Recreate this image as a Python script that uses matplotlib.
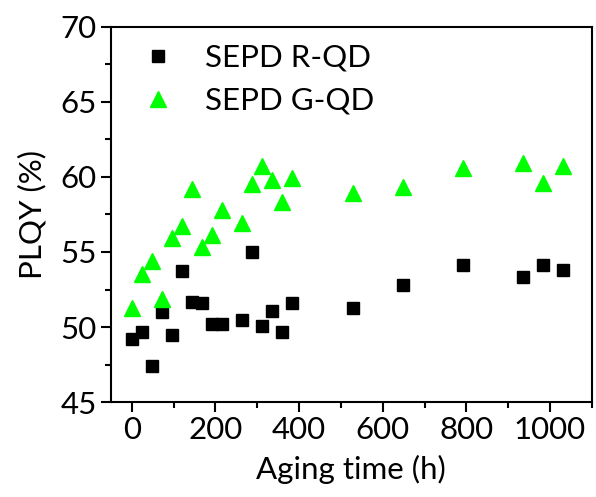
import matplotlib.pyplot as plt

# aging time (h) and PLQY (%)
time_r = [0, 24, 48, 72, 96, 120, 144, 168, 192, 216, 264, 288, 312, 336,
          360, 384, 528, 648, 792, 936, 984, 1032]
plqy_r = [49.2, 49.7, 47.4, 51.0, 49.5, 53.7, 51.7, 51.6, 50.2, 50.2, 50.5,
          55.0, 50.1, 51.1, 49.7, 51.6, 51.3, 52.8, 54.1, 53.3, 54.1, 53.8]
time_g = [0, 24, 48, 72, 96, 120, 144, 168, 192, 216, 264, 288, 312, 336,
          360, 384, 528, 648, 792, 936, 984, 1032]
plqy_g = [51.3, 53.5, 54.4, 51.9, 55.9, 56.7, 59.2, 55.3, 56.1, 57.8, 56.9,
          59.5, 60.7, 59.8, 58.3, 59.9, 58.9, 59.3, 60.6, 60.9, 59.6, 60.7]

plt.rcParams['font.family'] = ['Lato', 'DejaVu Sans']


def main():
    fig = plt.figure(figsize=(5.96, 4.97), dpi=100)
    ax = fig.add_axes([0.186, 0.191, 0.807, 0.755])
    ax.plot(time_r, plqy_r, 's', color='black', markersize=8,
            label='SEPD R-QD')
    ax.plot(time_g, plqy_g, '^', color='#00ff00', markersize=11,
            label='SEPD G-QD')
    ax.set_xlim(-50, 1100)
    ax.set_ylim(45, 70)
    ax.set_xticks(range(0, 1001, 200))
    ax.set_xticks(range(0, 1101, 100), minor=True)
    ax.set_yticks(range(45, 71, 5))
    ax.set_yticks([45 + 2.5 * i for i in range(11)], minor=True)
    ax.tick_params(which='major', direction='out', length=7, width=1.5,
                   labelsize=22.5, pad=3)
    ax.tick_params(which='minor', direction='out', length=4, width=1.5)
    ax.tick_params(top=False, right=False, which='both')
    for s in ax.spines.values():
        s.set_linewidth(1.5)
    ax.set_xlabel('Aging time (h)', fontsize=22.5, labelpad=8)
    ax.set_ylabel('PLQY (%)', fontsize=22.5, labelpad=10)
    ax.legend(loc='upper left', frameon=False, fontsize=22.5,
              bbox_to_anchor=(0.0, 1.03), handletextpad=0.9,
              labelspacing=0.48, handlelength=1.2)
    fig.savefig('out.png', dpi=100)


if __name__ == "__main__":
    main()
